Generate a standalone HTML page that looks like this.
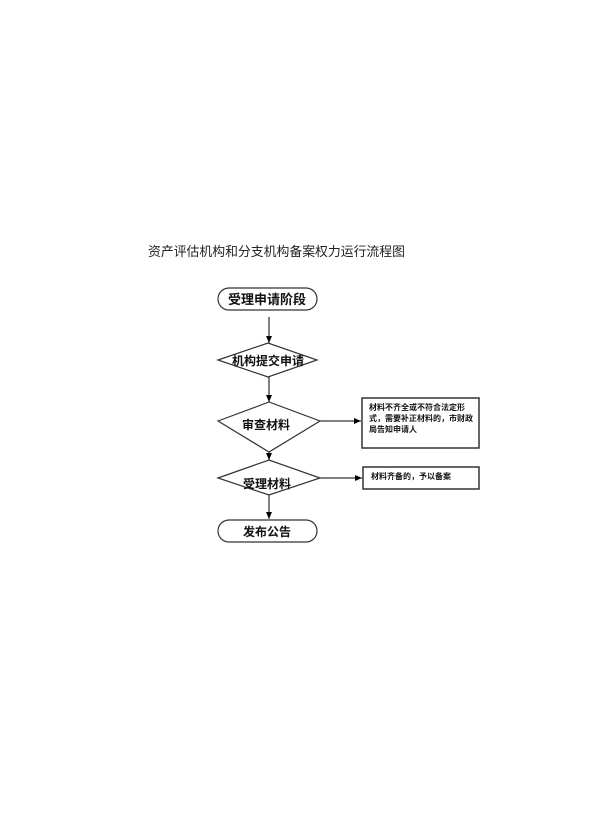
<!DOCTYPE html>
<html><head><meta charset="utf-8"><style>
html,body{margin:0;padding:0;background:#fff;}
svg{display:block;}
text{font-family:"Liberation Sans","Noto Sans CJK SC",sans-serif;}
</style></head><body>
<svg width="600" height="840" viewBox="0 0 600 840" xmlns="http://www.w3.org/2000/svg">
<defs><marker id="a" markerWidth="8" markerHeight="8" refX="7" refY="4" orient="auto" markerUnits="userSpaceOnUse"><path d="M0,1 L7,4 L0,7 Z" fill="#000"/></marker></defs>
<text x="148" y="256" font-size="13" fill="#222" textLength="257" lengthAdjust="spacingAndGlyphs">资产评估机构和分支机构备案权力运行流程图</text>
<g stroke="#333" stroke-width="1.2" fill="#fff">
<rect x="218" y="288" width="99" height="22" rx="11"/>
<polygon points="218,360 268,343 317,360 268,377"/>
<polygon points="218,421 269,402 320,421 269,452"/>
<polygon points="218,478 269,460 320,478 269,495"/>
<rect x="218" y="520" width="99" height="22" rx="11"/>
<rect x="362" y="398" width="117" height="50" stroke-width="1.5"/>
<rect x="363" y="467" width="116" height="22" stroke-width="1.5"/>
</g>
<g stroke="#000" stroke-width="1" marker-end="url(#a)">
<line x1="269" y1="317" x2="269" y2="343"/>
<line x1="269" y1="377" x2="269" y2="402"/>
<line x1="269" y1="452" x2="269" y2="460"/>
<line x1="269" y1="495" x2="269" y2="519"/>
<line x1="320" y1="421" x2="361" y2="421"/>
<line x1="320" y1="478" x2="362" y2="478"/>
</g>
<g font-weight="bold" fill="#111" text-anchor="middle">
<text x="267" y="304" font-size="13">受理申请阶段</text>
<text x="268" y="365" font-size="12">机构提交申请</text>
<text x="266" y="429" font-size="12">审查材料</text>
<text x="267" y="488" font-size="12">受理材料</text>
<text x="267" y="536" font-size="12">发布公告</text>
</g>
<g font-weight="bold" fill="#111" font-size="8">
<text x="369" y="410">材料不齐全或不符合法定形</text>
<text x="369" y="421">式，需要补正材料的，市财政</text>
<text x="369" y="432">局告知申请人</text>
<text x="371" y="479">材料齐备的，予以备案</text>
</g>
</svg>
</body></html>
